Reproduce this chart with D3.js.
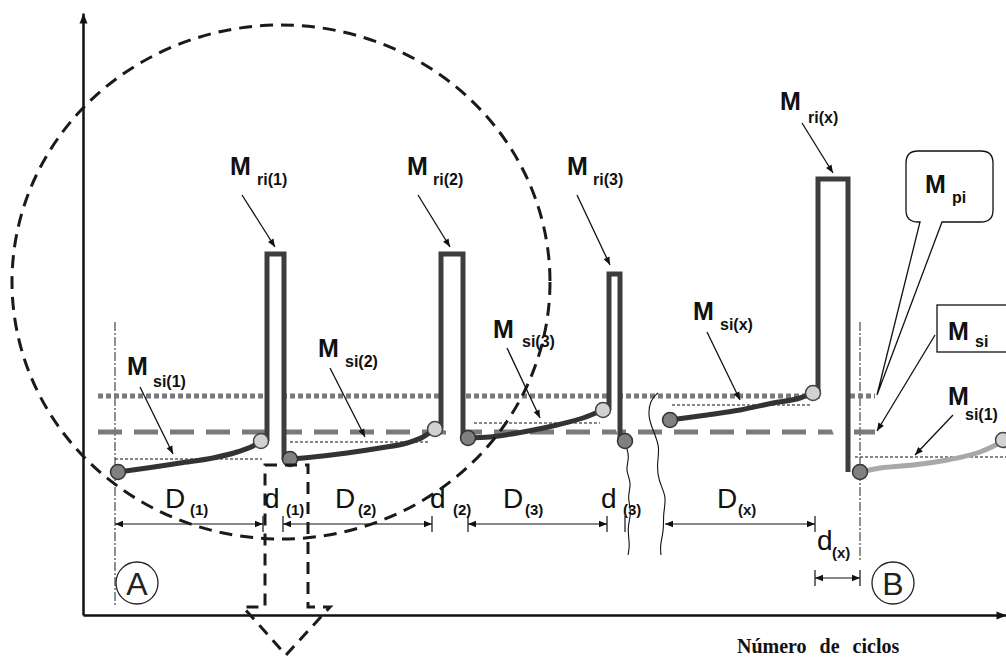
<!DOCTYPE html>
<meta charset="utf-8">
<style>
body{margin:0;background:#fff;}
svg{display:block;}
.m{font-family:'Liberation Sans',Arial,sans-serif;font-weight:bold;font-size:25px;fill:#111;}
.sub{font-family:'Liberation Sans',Arial,sans-serif;font-weight:bold;font-size:16px;fill:#111;}
.dsub{font-family:'Liberation Sans',Arial,sans-serif;font-weight:bold;font-size:15px;fill:#111;}
.dim{font-family:'Liberation Sans',Arial,sans-serif;font-size:28px;fill:#111;}
.ab{font-family:'Liberation Sans',Arial,sans-serif;font-size:32px;fill:#222;}
.xlab{font-family:'Liberation Serif','Times New Roman',serif;font-weight:bold;font-size:20px;word-spacing:8px;fill:#111;}
</style>
<body>
<script src="https://d3js.org/d3.v7.min.js"></script>
<script>

// schematic units: cycles along x, moment along y
var loadCurves=[
 [[35,143],[64,147],[97,152],[130,157],[154,163],[170,169],[178,174]],
 [[207,156],[230,158],[264,162],[297,167],[324,172],[340,178],[352,186]],
 [[385,177],[407,178],[440,183],[474,190],[500,197],[520,205]],
 [[587,195],[624,200],[657,205],[690,212],[717,217],[730,222]]
];
var nextCurve=[[777,143],[797,147],[830,150],[864,155],[897,163],[919,173]];
// peak: left, right, top, left foot, right foot
var peaks=[[184,201,361,174,155],[358,380,361,186,178],[526,537,341,205,174],[735,765,436,222,143]];
var startPts=[[35,143],[207,156],[385,177],[542,174],[587,195],[777,143]];
var endPts=[[178,174],[352,186],[520,205],[730,222],[920,175]];
// mean levels: level, from, to
var means=[[156,32,179],[173,207,347],[192,391,517],[210,589,729],[158,772,923]];
var levelPi=219, levelSi=183, levelFrom=15, levelTo=792;
var refCycles=[32,777];

var wave1=[[542,172],[547,158],[542,145],[549,132],[544,118],[549,102],[544,88],[547,70],[545,60]];
var wave2=[[575,222],[567,215],[565,198],[570,185],[577,168],[574,152],[575,135],[584,118],[580,102],[581,85],[577,70],[578,60]];

var dimLevel=91, dimLevel2=37;
var spans=[[32,180],[200,349],[385,524],[582,732]];
var ticks=[180,200,349,385,524,542,732];
var span2=[732,777];
var dimLabels=[["D","(1)",82,107,107,100],["d","(1)",181,107,203,100],["D","(2)",252,107,275,100],
 ["d","(2)",347,107,370,100],["D","(3)",420,107,442,100],["d","(3)",518,107,540,100],
 ["D","(x)",634,107,655,100],["d","(x)",734,65,749,57]];

var mLabels=[["ri(1)",147,440,174,430],["ri(2)",324,440,350,430],["ri(3)",484,440,510,430],
 ["ri(x)",697,505,725,492],["si(1)",44,240,70,228],["si(2)",235,258,262,248],
 ["si(3)",410,277,439,268],["si(x)",610,295,637,285],["si(1)",865,210,882,195],
 ["pi",842,422,869,412],["si",865,275,892,268]];
var pointers=[[159,420,192,368],[335,420,367,368],[494,420,527,350],[719,492,750,442],
 [57,228,90,161],[247,247,282,178],[424,267,457,197],[624,283,657,215],
 [870,200,832,160],[852,280,794,184]];

var zoomArea=[198,333,269,257]; // cx, cy, rx, ry
var blockArrow=[[182,150],[225,150],[225,8],[247,8],[203,-40],[160,8],[182,8]];
var piBox=[823,910,464,393,837,859,794,220];
var siBox=[854,935,310,263];
var marks=[["A",54,32],["B",810,32]];

var W=1006,H=658;
var svg=d3.select("body").append("svg").attr("width",W).attr("height",H);
var x=d3.scaleLinear().domain([0,923]).range([83,1006]);
var y=d3.scaleLinear().domain([0,602]).range([615,13]);

var defs=svg.append("defs");
function marker(id,w,h){
	defs.append("marker").attr("id",id).attr("viewBox","0 0 10 10")
		.attr("refX",10).attr("refY",5).attr("markerUnits","userSpaceOnUse")
		.attr("markerWidth",w).attr("markerHeight",h).attr("orient","auto-start-reverse")
		.append("path").attr("d","M0,1L10,5L0,9z").attr("fill","#111");
}
marker("arr",9,8);
marker("axarr",12,10);

var line=d3.line().x(d=>x(d[0])).y(d=>y(d[1]));
var smooth=d3.line().x(d=>x(d[0])).y(d=>y(d[1])).curve(d3.curveMonotoneX);
var wavy=d3.line().x(d=>x(d[0])).y(d=>y(d[1])).curve(d3.curveBasis);

// axes
var gx=svg.append("g").attr("transform","translate(0,"+y(0)+")")
	.call(d3.axisBottom(x).tickValues([]).tickSizeOuter(0));
var gy=svg.append("g").attr("transform","translate("+x(0)+",0)")
	.call(d3.axisLeft(y).tickValues([]).tickSizeOuter(0));
[gx,gy].forEach(function(g){
	g.select(".domain").attr("stroke","#111").attr("stroke-width",2.5).attr("marker-end","url(#axarr)");
});

// reference verticals
svg.selectAll(".ref").data(refCycles).enter().append("line")
	.attr("x1",d=>x(d)).attr("x2",d=>x(d)).attr("y1",(d,i)=>y(293)).attr("y2",(d,i)=>y(i?55:10))
	.attr("stroke","#222").attr("stroke-width",1).attr("stroke-dasharray","9,2,2,2");

// mean thin dotted
svg.selectAll(".mean").data(means).enter().append("line")
	.attr("x1",d=>x(d[1])).attr("x2",d=>x(d[2])).attr("y1",d=>y(d[0])).attr("y2",d=>y(d[0]))
	.attr("stroke","#111").attr("stroke-width",1).attr("stroke-dasharray","3,2");

// levels
svg.append("line").attr("x1",x(levelFrom)).attr("x2",x(levelTo)).attr("y1",y(levelPi)).attr("y2",y(levelPi))
	.attr("stroke","#7a7a7a").attr("stroke-width",5).attr("stroke-dasharray","5,3");
svg.append("line").attr("x1",x(levelFrom)).attr("x2",x(levelTo)).attr("y1",y(levelSi)).attr("y2",y(levelSi))
	.attr("stroke","#7a7a7a").attr("stroke-width",5).attr("stroke-dasharray","24,12");

// peaks
svg.selectAll(".peak").data(peaks).enter().append("path")
	.attr("d",d=>line([[d[0],d[3]],[d[0],d[2]],[d[1],d[2]],[d[1],d[4]]]))
	.attr("fill","#fff").attr("stroke","#3d3d3d").attr("stroke-width",5).attr("stroke-linejoin","miter");

// loading curves
svg.selectAll(".curve").data(loadCurves).enter().append("path")
	.attr("d",smooth).attr("fill","none").attr("stroke","#333").attr("stroke-width",5).attr("stroke-linecap","round");
svg.append("path").attr("d",smooth(nextCurve)).attr("fill","none")
	.attr("stroke","#a8a8a8").attr("stroke-width",5).attr("stroke-linecap","round");

// breaks
[wave1,wave2].forEach(function(w){
	svg.append("path").attr("d",wavy(w)).attr("fill","none").attr("stroke","#111").attr("stroke-width",1.1);
});

// points
svg.selectAll(".sp").data(startPts).enter().append("circle")
	.attr("cx",d=>x(d[0])).attr("cy",d=>y(d[1])).attr("r",7.5)
	.attr("fill","#808080").attr("stroke","#333").attr("stroke-width",1.5);
svg.selectAll(".ep").data(endPts).enter().append("circle")
	.attr("cx",d=>x(d[0])).attr("cy",d=>y(d[1])).attr("r",7.5)
	.attr("fill","#d2d2d2").attr("stroke","#444").attr("stroke-width",1.5);

// dimensions
svg.selectAll(".span").data(spans).enter().append("line")
	.attr("x1",d=>x(d[0])).attr("x2",d=>x(d[1])).attr("y1",y(dimLevel)).attr("y2",y(dimLevel))
	.attr("stroke","#111").attr("stroke-width",1.2)
	.attr("marker-start","url(#arr)").attr("marker-end","url(#arr)");
svg.selectAll(".tick").data(ticks).enter().append("line")
	.attr("x1",d=>x(d)).attr("x2",d=>x(d)).attr("y1",y(dimLevel)-8).attr("y2",y(dimLevel)+8)
	.attr("stroke","#111").attr("stroke-width",1.2);
svg.append("line").attr("x1",x(span2[0])).attr("x2",x(span2[1])).attr("y1",y(dimLevel2)).attr("y2",y(dimLevel2))
	.attr("stroke","#111").attr("stroke-width",1.2)
	.attr("marker-start","url(#arr)").attr("marker-end","url(#arr)");
svg.selectAll(".tick2").data(span2).enter().append("line")
	.attr("x1",d=>x(d)).attr("x2",d=>x(d)).attr("y1",y(dimLevel2)-8).attr("y2",y(dimLevel2)+8)
	.attr("stroke","#111").attr("stroke-width",1.2);

var dl=svg.selectAll(".dl").data(dimLabels).enter().append("g");
dl.append("text").attr("class","dim").attr("x",d=>x(d[2])).attr("y",d=>y(d[3])).text(d=>d[0]);
dl.append("text").attr("class","dsub").attr("x",d=>x(d[4])).attr("y",d=>y(d[5])).text(d=>d[1]);

// zoom area and block arrow
svg.append("ellipse").attr("cx",x(zoomArea[0])).attr("cy",y(zoomArea[1]))
	.attr("rx",x(zoomArea[2])-x(0)).attr("ry",y(0)-y(zoomArea[3]))
	.attr("fill","none").attr("stroke","#1a1a1a").attr("stroke-width",3).attr("stroke-dasharray","13,8");
svg.append("path").attr("d",line(blockArrow)+"Z").attr("fill","none")
	.attr("stroke","#1a1a1a").attr("stroke-width",3).attr("stroke-dasharray","12,8");

// callouts
(function(){
	var x0=x(piBox[0]),x1=x(piBox[1]),yt=y(piBox[2]),yb=y(piBox[3]),r=12;
	var p=d3.path();
	p.moveTo(x0+r,yt);p.lineTo(x1-r,yt);p.quadraticCurveTo(x1,yt,x1,yt+r);
	p.lineTo(x1,yb-r);p.quadraticCurveTo(x1,yb,x1-r,yb);
	p.lineTo(x(piBox[5]),yb);p.lineTo(x(piBox[6]),y(piBox[7]));p.lineTo(x(piBox[4]),yb);
	p.lineTo(x0+r,yb);p.quadraticCurveTo(x0,yb,x0,yb-r);p.lineTo(x0,yt+r);p.quadraticCurveTo(x0,yt,x0+r,yt);p.closePath();
	svg.append("path").attr("d",p.toString()).attr("fill","#fff").attr("stroke","#111").attr("stroke-width",1.3);
})();
svg.append("rect").attr("x",x(siBox[0])).attr("y",y(siBox[2]))
	.attr("width",x(siBox[1])-x(siBox[0])).attr("height",y(siBox[3])-y(siBox[2]))
	.attr("fill","#fff").attr("stroke","#111").attr("stroke-width",1.3);

// pointers
svg.selectAll(".ptr").data(pointers).enter().append("line")
	.attr("x1",d=>x(d[0])).attr("y1",d=>y(d[1])).attr("x2",d=>x(d[2])).attr("y2",d=>y(d[3]))
	.attr("stroke","#111").attr("stroke-width",1.3).attr("marker-end","url(#arr)");

// M labels
var ml=svg.selectAll(".ml").data(mLabels).enter().append("g");
ml.append("text").attr("class","m").attr("x",d=>x(d[1])).attr("y",d=>y(d[2])).text("M");
ml.append("text").attr("class","sub").attr("x",d=>x(d[3])).attr("y",d=>y(d[4])).text(d=>d[0]);

// A / B
var ab=svg.selectAll(".ab").data(marks).enter().append("g");
ab.append("circle").attr("cx",d=>x(d[1])).attr("cy",d=>y(d[2])).attr("r",21)
	.attr("fill","#fff").attr("stroke","#222").attr("stroke-width",1.3);
ab.append("text").attr("class","ab").attr("x",d=>x(d[1])).attr("y",d=>y(d[2])+11.5)
	.attr("text-anchor","middle").text(d=>d[0]);

svg.append("text").attr("class","xlab").attr("x",x(654)).attr("y",y(-38)).text("Número de ciclos");
</script>
</body>
